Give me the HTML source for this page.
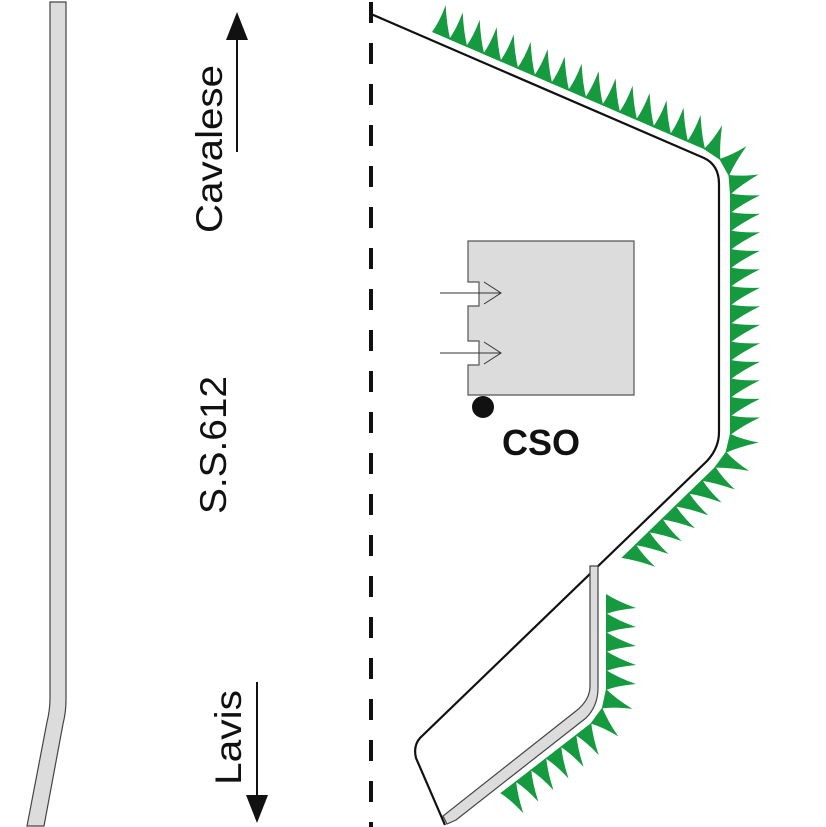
<!DOCTYPE html>
<html><head><meta charset="utf-8"><style>
html,body{margin:0;padding:0;background:#fff;}
svg{display:block;}
</style></head><body>
<svg id="s" width="826" height="827" viewBox="0 0 826 827" xmlns="http://www.w3.org/2000/svg">
<path d="M50,2 L66,2 L66,700 Q66,712 63,724 L44,826 L27,826 L47,722 Q50,710 50,698 Z" fill="#dcdcdc" stroke="#444" stroke-width="1.2"/>
<line x1="371" y1="0" x2="371" y2="827" stroke="#111" stroke-width="4" stroke-dasharray="21 20" stroke-dashoffset="-2"/>
<path d="M371,14 L704,158 Q719,165 719,184 L719,432 Q719,448 707,461 L420,738 Q413,746 416,758 L445,825" fill="none" stroke="#111" stroke-width="2.2"/>
<path d="M590,566 L598,566 L598,688 Q598,706 586,718 L456,820 L447,824 L443,816 L576,711 Q590,700 590,686 Z" fill="#dcdcdc" stroke="#444" stroke-width="1.2"/>
<path d="M468,241 L634,241 L634,395 L468,395 L468,365 L479,365 L479,341 L468,341 L468,306 L479,306 L479,282 L468,282 Z" fill="#dcdcdc" stroke="#555" stroke-width="1.2"/>
<g stroke="#333" stroke-width="1" fill="none">
<line x1="440" y1="293" x2="501" y2="293"/><polyline points="484,282 501,293 484,304"/>
<line x1="440" y1="353" x2="501" y2="353"/><polyline points="484,342 501,353 484,364"/>
</g>
<circle cx="483" cy="407" r="11" fill="#111"/>
<text x="541" y="455" font-family="Liberation Sans, sans-serif" font-weight="bold" font-size="36" text-anchor="middle" fill="#111">CSO</text>
<g font-family="Liberation Sans, sans-serif" font-size="37" fill="#111">
<text transform="translate(222,233) rotate(-90)" textLength="168" lengthAdjust="spacingAndGlyphs">Cavalese</text>
<text transform="translate(226,514) rotate(-90)" textLength="138" lengthAdjust="spacingAndGlyphs">S.S.612</text>
<text transform="translate(241,785) rotate(-90)" textLength="95" lengthAdjust="spacingAndGlyphs">Lavis</text>
</g>
<line x1="237" y1="152" x2="237" y2="36" stroke="#111" stroke-width="2"/>
<polygon points="237,12 226,40 248,40" fill="#111"/>
<line x1="257" y1="682" x2="257" y2="800" stroke="#111" stroke-width="2"/>
<polygon points="257,823 246,795 268,795" fill="#111"/>
<g id="tri" fill="#169a40"></g>
<path id="pA" d="M432,32 L706,150 Q730,161 730,187 L730,432 Q730,452 716,466 L612,567" fill="none" stroke="none"/>
<path id="pB" d="M606,594 L606,688 Q606,710 590,724 L494,798" fill="none" stroke="none"/>
</svg>
<script>
(function(){
var ns="http://www.w3.org/2000/svg",g=document.getElementById("tri");
function run(id,step,w,h,lean){
 var p=document.getElementById(id),L=p.getTotalLength();
 for(var s=0;s+w<=L+1;s+=step){
  var a=p.getPointAtLength(s),b=p.getPointAtLength(Math.min(s+w,L));
  var dx=b.x-a.x,dy=b.y-a.y,l=Math.hypot(dx,dy)||1;dx/=l;dy/=l;
  var nx=dy,ny=-dx;
  var mx=(a.x+b.x)/2,my=(a.y+b.y)/2;
  var tx=mx+nx*h+dx*lean*w,ty=my+ny*h+dy*lean*w;
  var k=0.2;
  var cx1=(a.x+tx)/2+(mx-(a.x+tx)/2)*k, cy1=(a.y+ty)/2+(my-(a.y+ty)/2)*k;
  var cx2=(b.x+tx)/2+(mx-(b.x+tx)/2)*k, cy2=(b.y+ty)/2+(my-(b.y+ty)/2)*k;
  var e=document.createElementNS(ns,"path");
  e.setAttribute("d","M"+a.x+","+a.y+" Q"+cx1+","+cy1+" "+tx+","+ty+" Q"+cx2+","+cy2+" "+b.x+","+b.y+" Z");
  g.appendChild(e);
 }
}
run("pA",18.5,20,30,-0.4);
run("pB",19,20,30,0.2);
})();
</script>
</body></html>
